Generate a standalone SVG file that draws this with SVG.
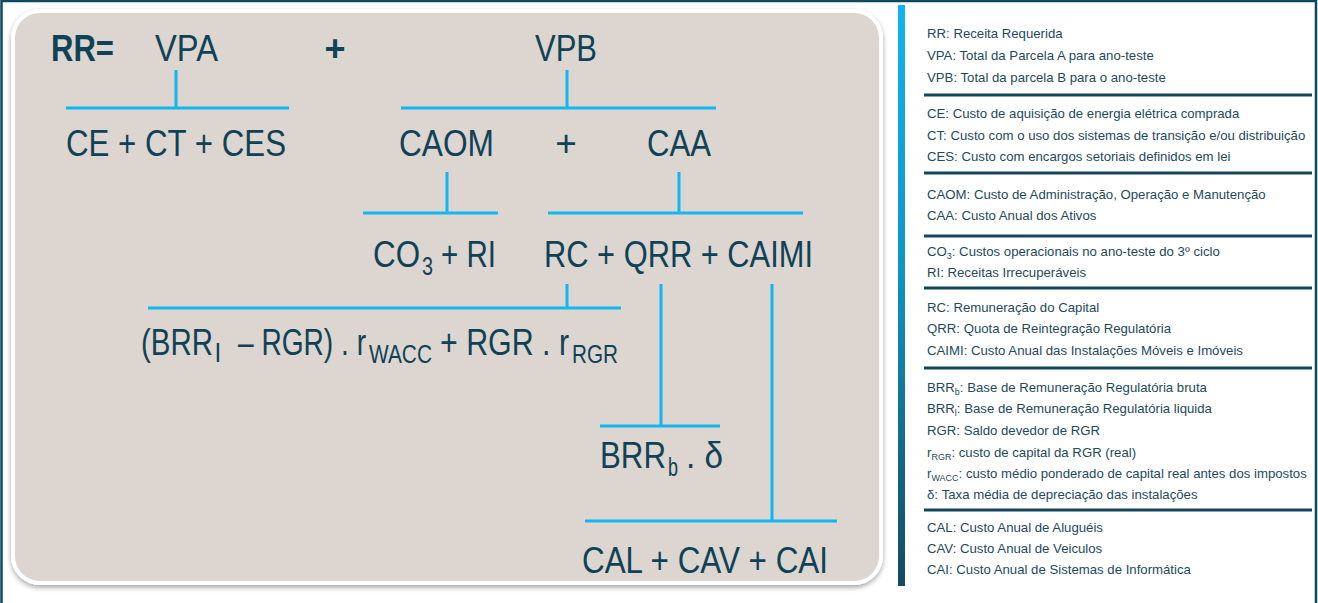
<svg xmlns="http://www.w3.org/2000/svg" width="1318" height="603" viewBox="0 0 1318 603">
<style>
.f{font-family:"Liberation Sans",Arial,sans-serif;font-size:37px;fill:#0f4256}
.fb{font-family:"Liberation Sans",Arial,sans-serif;font-size:36px;font-weight:bold;fill:#0f4256}
.sub{font-family:"Liberation Sans",Arial,sans-serif;font-size:26px;fill:#0f4256}
.lg{font-family:"Liberation Sans",Arial,sans-serif;font-size:13.2px;fill:#1d4a5c}
.ls{font-size:9px}
.c{stroke:#12b6f0;stroke-width:3;fill:none}
.sep{stroke:#15465c;stroke-width:3}
</style>
<defs>
<filter id="sh" x="-5%" y="-5%" width="110%" height="110%">
<feDropShadow dx="0" dy="2.5" stdDeviation="2.5" flood-color="#000" flood-opacity="0.35"/>
</filter>
<linearGradient id="bar" x1="0" y1="0" x2="0" y2="1">
<stop offset="0" stop-color="#10b4ee"/>
<stop offset="0.45" stop-color="#0f95c6"/>
<stop offset="1" stop-color="#154a62"/>
</linearGradient>
</defs>
<rect width="1318" height="603" fill="#ffffff"/>
<path d="M1.5,603 V1 H1316 V603" fill="none" stroke="#0e4a5f" stroke-width="2.5"/>
<g id="panel">
<rect x="13" y="11" width="868" height="572" rx="27" fill="#ddd6d0" stroke="#ffffff" stroke-width="4" filter="url(#sh)"/>
</g>
<g id="connectors">
<path class="c" d="M176,70 V108 M66,108 H289"/>
<path class="c" d="M567,70 V108 M401,108 H716"/>
<path class="c" d="M447,172 V213 M363,213 H498"/>
<path class="c" d="M679,172 V213 M548,213 H803"/>
<path class="c" d="M567,284 V308 M148,308 H621"/>
<path class="c" d="M661,284 V426 M600,426 H720"/>
<path class="c" d="M772,284 V521 M585,521 H837"/>
</g>
<g id="node-rr"><text class="fb" x="51" y="61" textLength="63" lengthAdjust="spacingAndGlyphs">RR=</text></g>
<g id="node-vpa"><text class="f" x="155" y="61" textLength="63" lengthAdjust="spacingAndGlyphs">VPA</text></g>
<g id="node-plus1"><text class="fb" x="335" y="61" text-anchor="middle">+</text></g>
<g id="node-vpb"><text class="f" x="535" y="61" textLength="62" lengthAdjust="spacingAndGlyphs">VPB</text></g>
<g id="node-vpa-terms"><text class="f" x="66" y="156" textLength="220" lengthAdjust="spacingAndGlyphs">CE + CT + CES</text></g>
<g id="node-caom"><text class="f" x="399" y="156" textLength="95" lengthAdjust="spacingAndGlyphs">CAOM</text></g>
<g id="node-plus2"><text class="f" x="566" y="156" text-anchor="middle">+</text></g>
<g id="node-caa"><text class="f" x="647" y="156" textLength="64" lengthAdjust="spacingAndGlyphs">CAA</text></g>
<g id="node-co3-ri">
<text class="f" x="373" y="267" textLength="47" lengthAdjust="spacingAndGlyphs">CO</text>
<text class="sub" x="422" y="275" textLength="11" lengthAdjust="spacingAndGlyphs">3</text>
<text class="f" x="441" y="267" textLength="55" lengthAdjust="spacingAndGlyphs">+ RI</text>
</g>
<g id="node-rc-qrr-caimi"><text class="f" x="544" y="267" textLength="269" lengthAdjust="spacingAndGlyphs">RC + QRR + CAIMI</text></g>
<g id="node-rc-terms">
<text class="f" x="141" y="355" textLength="72" lengthAdjust="spacingAndGlyphs">(BRR</text>
<text class="sub" x="215" y="362" font-size="20">l</text>
<text class="f" x="238" y="355" textLength="128" lengthAdjust="spacingAndGlyphs">– RGR) . r</text>
<text class="sub" x="369" y="363" textLength="63" lengthAdjust="spacingAndGlyphs">WACC</text>
<text class="f" x="440" y="355" textLength="129" lengthAdjust="spacingAndGlyphs">+ RGR . r</text>
<text class="sub" x="572" y="363" textLength="46" lengthAdjust="spacingAndGlyphs">RGR</text>
</g>
<g id="node-brrb-delta">
<text class="f" x="600" y="468" textLength="66" lengthAdjust="spacingAndGlyphs">BRR</text>
<text class="sub" x="668" y="476" textLength="10" lengthAdjust="spacingAndGlyphs">b</text>
<text class="f" x="686" y="468" textLength="37" lengthAdjust="spacingAndGlyphs">. δ</text>
</g>
<g id="node-cal-cav-cai"><text class="f" x="582" y="573" textLength="246" lengthAdjust="spacingAndGlyphs">CAL + CAV + CAI</text></g>
<g id="legend">
<rect x="898" y="5" width="7" height="581" fill="url(#bar)"/>
<path class="sep" d="M924,95 H1312 M924,173 H1312 M924,236 H1312 M924,288 H1312 M924,368 H1312 M924,510 H1312"/>
<g id="legend-1">
<text class="lg" x="927" y="38">RR: Receita Requerida</text>
<text class="lg" x="927" y="60">VPA: Total da Parcela A para ano-teste</text>
<text class="lg" x="927" y="82">VPB: Total da parcela B para o ano-teste</text>
</g>
<g id="legend-2">
<text class="lg" x="927" y="118">CE: Custo de aquisição de energia elétrica comprada</text>
<text class="lg" x="927" y="140">CT: Custo com o uso dos sistemas de transição e/ou distribuição</text>
<text class="lg" x="927" y="161">CES: Custo com encargos setoriais definidos em lei</text>
</g>
<g id="legend-3">
<text class="lg" x="927" y="199">CAOM: Custo de Administração, Operação e Manutenção</text>
<text class="lg" x="927" y="220">CAA: Custo Anual dos Ativos</text>
</g>
<g id="legend-4">
<text class="lg" x="927" y="256">CO<tspan class="ls" dy="3">3</tspan><tspan dy="-3">: Custos operacionais no ano-teste do 3º ciclo</tspan></text>
<text class="lg" x="927" y="277">RI: Receitas Irrecuperáveis</text>
</g>
<g id="legend-5">
<text class="lg" x="927" y="312">RC: Remuneração do Capital</text>
<text class="lg" x="927" y="333">QRR: Quota de Reintegração Regulatória</text>
<text class="lg" x="927" y="355">CAIMI:  Custo Anual das Instalações Móveis e Imóveis</text>
</g>
<g id="legend-6">
<text class="lg" x="927" y="392">BRR<tspan class="ls" dy="3">b</tspan><tspan dy="-3">: Base de Remuneração Regulatória bruta</tspan></text>
<text class="lg" x="927" y="413">BRR<tspan class="ls" dy="3">l</tspan><tspan dy="-3">: Base de Remuneração Regulatória liquida</tspan></text>
<text class="lg" x="927" y="435">RGR: Saldo devedor de RGR</text>
<text class="lg" x="927" y="457">r<tspan class="ls" dy="3">RGR</tspan><tspan dy="-3">: custo de capital da RGR (real)</tspan></text>
<text class="lg" x="927" y="478">r<tspan class="ls" dy="3">WACC</tspan><tspan dy="-3">: custo médio ponderado de capital real antes dos impostos</tspan></text>
<text class="lg" x="927" y="499">δ: Taxa média de depreciação das instalações</text>
</g>
<g id="legend-7">
<text class="lg" x="927" y="532">CAL: Custo Anual de Aluguéis</text>
<text class="lg" x="927" y="553">CAV: Custo Anual de Veiculos</text>
<text class="lg" x="927" y="574">CAI: Custo Anual de Sistemas de Informática</text>
</g>
</g>
</svg>
